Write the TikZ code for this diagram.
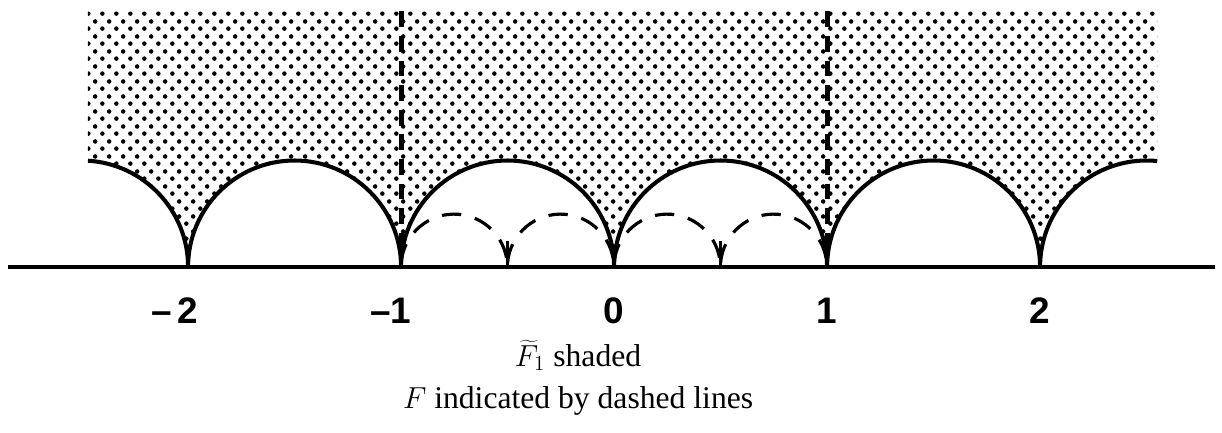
\documentclass[tikz,border=0pt]{standalone}
\usepackage{fontspec}
\setmainfont{Liberation Serif}
\setsansfont{Liberation Sans}
\usepackage{tikz}
\usetikzlibrary{patterns}
\pgfdeclarepatternformonly{halftone}{\pgfpointorigin}{\pgfpoint{0.286cm}{0.292cm}}{\pgfpoint{0.286cm}{0.292cm}}{%
  \pgfpathcircle{\pgfpoint{0.07cm}{0.07cm}}{0.047cm}%
  \pgfpathcircle{\pgfpoint{0.213cm}{0.216cm}}{0.047cm}%
  \pgfusepath{fill}}

\begin{document}
\begin{tikzpicture}[x=4.26cm,y=4.26cm,
    boundary/.style={line width=2.3pt},
    fwall/.style={line width=2.8pt, dash pattern=on 9pt off 5pt},
    fdash/.style={line width=1.8pt, dash pattern=on 11pt off 8pt},
    ticklabel/.style={font=\sffamily\bfseries\fontsize{21}{23}\selectfont}]
    \useasboundingbox (-2.883,-0.775) rectangle (2.854,1.2535);
    % shaded region above the big circles
    \fill[pattern=halftone] (-2.47,1.2) -- (-2.47,0.499) arc[start angle=86.56, end angle=0, radius=.5]
        \foreach \n in {1,...,4} { arc[start angle=180, end angle=0, radius=.5] }
        arc[start angle=180, end angle=84.26, radius=.5] -- (2.55,1.2) -- cycle;
    \draw[boundary] (-2.47,0.499) arc[start angle=86.56, end angle=0, radius=.5]
        \foreach \n in {1,...,4} { arc[start angle=180, end angle=0, radius=.5] }
        arc[start angle=180, end angle=84.26, radius=.5];
    \draw[boundary] (-2.845,0) -- (2.82,0);
    % F
    \draw[fwall] (-1,1.2) -- (-1,0.1);
    \draw[fwall] (1,1.2) -- (1,0.1);
    \foreach \c in {-0.75,-0.25,0.25,0.75} {\draw[fdash] (\c-0.25,0.02) arc[start angle=175, end angle=5, radius=.25];};
    \foreach \x in {-0.5,0.5} {\draw[line width=1.8pt] (\x,0) -- (\x,0.12);};
    \foreach \x/\t/\nm in {-2/{\llap{--\,}2}/m2, -1/{\llap{--}1}/m1, 0/0/z, 1/1/p1, 2/2/p2}
        {\node[ticklabel] (tick-\nm) at (\x,-0.205) {\t};};
    \node[align=center, font=\fontsize{18}{24}\selectfont] (caption) at (-0.169,-0.519)
        {$\widetilde{F}_{1}$ shaded\\$F$ indicated by dashed lines};
\end{tikzpicture}
\end{document}
